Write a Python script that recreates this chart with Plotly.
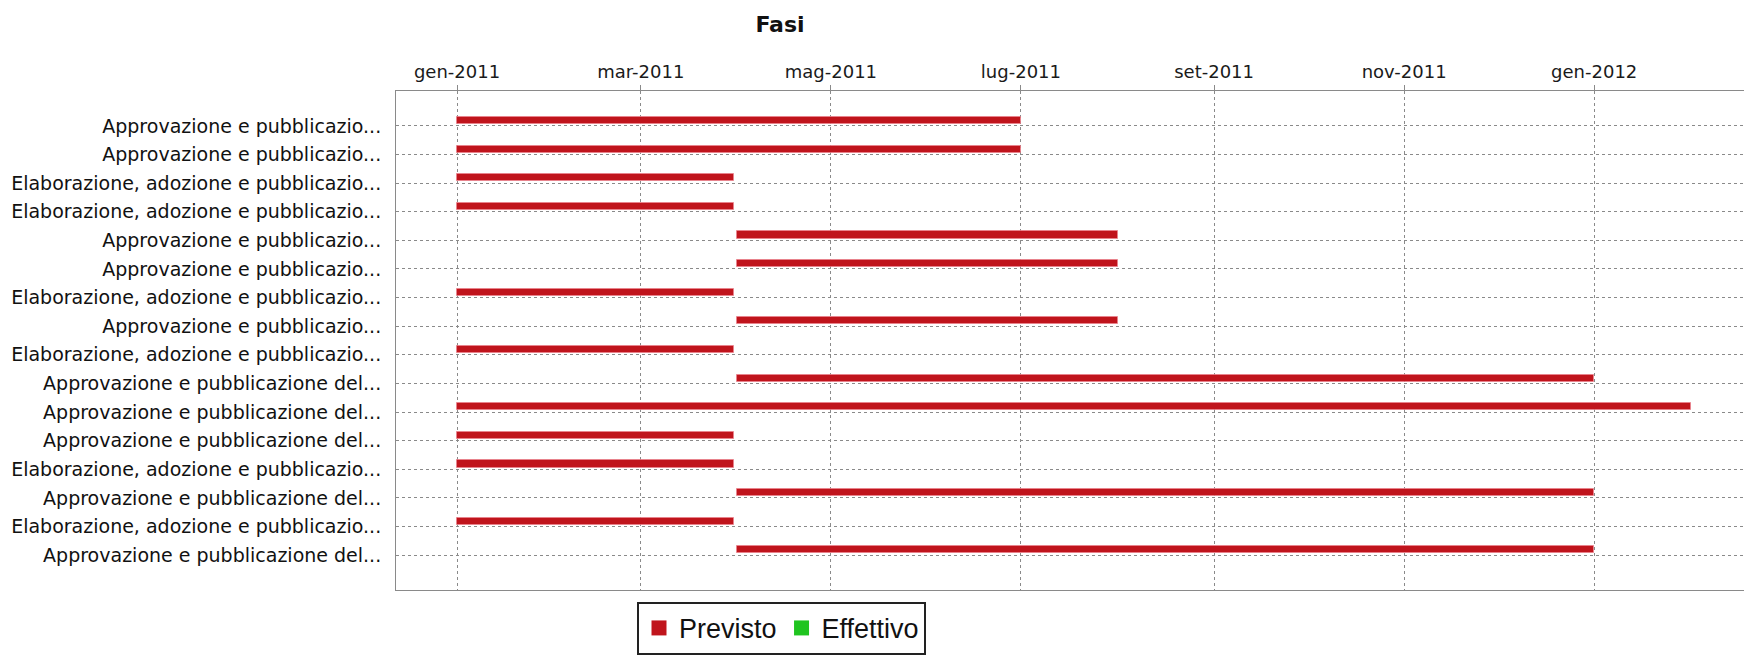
import pandas as pd
import plotly.graph_objects as go

# Fasi del cronoprogramma (dall'alto verso il basso)
fasi = [
    "Approvazione e pubblicazio...",
    "Approvazione e pubblicazio...",
    "Elaborazione, adozione e pubblicazio...",
    "Elaborazione, adozione e pubblicazio...",
    "Approvazione e pubblicazio...",
    "Approvazione e pubblicazio...",
    "Elaborazione, adozione e pubblicazio...",
    "Approvazione e pubblicazio...",
    "Elaborazione, adozione e pubblicazio...",
    "Approvazione e pubblicazione del...",
    "Approvazione e pubblicazione del...",
    "Approvazione e pubblicazione del...",
    "Elaborazione, adozione e pubblicazio...",
    "Approvazione e pubblicazione del...",
    "Elaborazione, adozione e pubblicazio...",
    "Approvazione e pubblicazione del...",
]

previsto_inizio = [
    "2011-01-01", "2011-01-01", "2011-01-01", "2011-01-01",
    "2011-04-01", "2011-04-01", "2011-01-01", "2011-04-01",
    "2011-01-01", "2011-04-01", "2011-01-01", "2011-01-01",
    "2011-01-01", "2011-04-01", "2011-01-01", "2011-04-01",
]
previsto_fine = [
    "2011-07-01", "2011-07-01", "2011-03-31", "2011-03-31",
    "2011-08-01", "2011-08-01", "2011-03-31", "2011-08-01",
    "2011-03-31", "2012-01-01", "2012-02-01", "2011-03-31",
    "2011-03-31", "2012-01-01", "2011-03-31", "2012-01-01",
]

# Nessuna data effettiva registrata
effettivo_inizio = []
effettivo_fine = []

tick_date = ["2011-01-01", "2011-03-01", "2011-05-01", "2011-07-01",
             "2011-09-01", "2011-11-01", "2012-01-01"]
tick_mesi = ["gen-2011", "mar-2011", "mag-2011", "lug-2011",
             "set-2011", "nov-2011", "gen-2012"]

righe = list(range(len(fasi)))


def durata_ms(inizio, fine):
    return [(pd.Timestamp(f) - pd.Timestamp(i)).total_seconds() * 1000
            for i, f in zip(inizio, fine)]


ROSSO = "#c0141c"
VERDE = "#1fc41f"
GRIGIO = "#8a8a8a"

fig = go.Figure()
fig.add_trace(go.Bar(
    name="Previsto",
    legendgroup="Previsto",
    showlegend=False,
    orientation="h",
    y=righe,
    base=previsto_inizio,
    x=durata_ms(previsto_inizio, previsto_fine),
    offset=-0.31,
    width=0.25,
    marker=dict(color=ROSSO, line=dict(color="rgba(235,130,140,0.75)", width=1)),
))
fig.add_trace(go.Bar(
    name="Effettivo",
    legendgroup="Effettivo",
    showlegend=False,
    orientation="h",
    y=[righe[k] for k in range(len(effettivo_inizio))],
    base=effettivo_inizio,
    x=durata_ms(effettivo_inizio, effettivo_fine),
    offset=-0.06,
    width=0.25,
    marker=dict(color=VERDE),
))

# Voci di legenda con quadratini colorati
for nome, colore in (("Previsto", ROSSO), ("Effettivo", VERDE)):
    fig.add_trace(go.Scatter(
        name=nome,
        legendgroup=nome,
        x=[None], y=[None],
        mode="markers",
        marker=dict(symbol="square", size=15, color=colore),
        hoverinfo="skip",
    ))

fig.update_layout(
    width=1744,
    height=655,
    margin=dict(l=396, r=0, t=91, b=60),
    paper_bgcolor="white",
    plot_bgcolor="white",
    title=dict(
        text="<b>Fasi</b>",
        font=dict(family="DejaVu Sans", size=22, color="#111111"),
        x=780 / 1744, xref="container", xanchor="center",
        y=1 - 24 / 655, yref="container", yanchor="middle",
    ),
    showlegend=True,
    legend=dict(
        orientation="h",
        x=(637 - 396) / 1348, xanchor="left",
        y=-12 / 504, yanchor="top",
        font=dict(family="Liberation Sans", size=27, color="#111111"),
        bordercolor="#222222",
        borderwidth=2,
        bgcolor="white",
        traceorder="normal",
        itemwidth=30,
    ),
    bargap=0,
)

fig.update_xaxes(
    type="date",
    side="top",
    range=["2010-12-12 10:00", "2012-02-18 02:00"],
    tickvals=tick_date,
    ticktext=tick_mesi,
    tickfont=dict(family="DejaVu Sans", size=18, color="#1a1a1a"),
    ticks="outside",
    ticklen=5,
    tickcolor=GRIGIO,
    showline=True,
    linecolor="#8a8a8a",
    linewidth=1,
    mirror=True,
    showgrid=True,
    gridcolor=GRIGIO,
    griddash="3px,3px",
    gridwidth=1,
    zeroline=False,
)

fig.update_yaxes(
    range=[len(fasi) - 1 + 1.22, -1.22],
    tickvals=righe,
    ticktext=fasi,
    tickfont=dict(family="DejaVu Sans", size=19, color="#111111"),
    ticks="",
    ticklabelstandoff=10,
    showline=True,
    linecolor="#8a8a8a",
    linewidth=1,
    mirror=False,
    showgrid=True,
    gridcolor=GRIGIO,
    griddash="3px,3px",
    gridwidth=1,
    zeroline=False,
)

fig.write_html("out.html")
